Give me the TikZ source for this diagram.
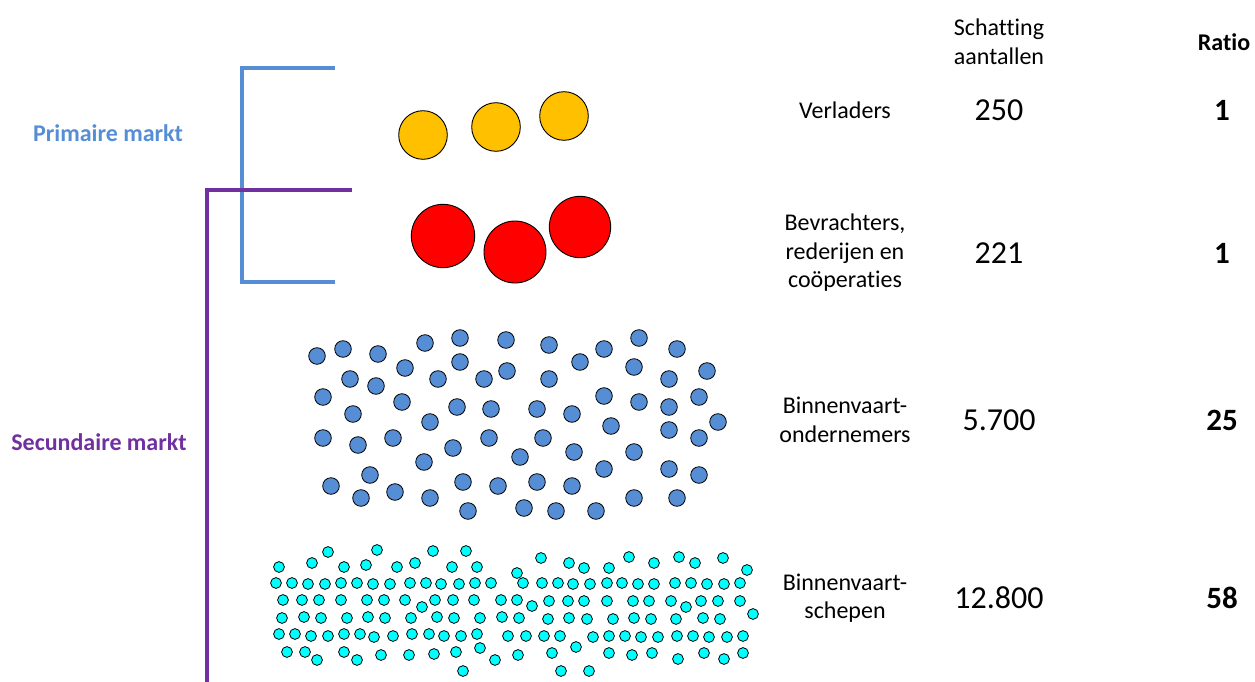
\documentclass[tikz,border=0pt]{standalone}
\usepackage{fontspec}
\setmainfont{Carlito}[RawFeature={-liga;-clig;-calt;-dlig}]
\usepackage{tikz}
\usetikzlibrary{positioning}
\definecolor{primblue}{RGB}{85,142,213}
\definecolor{secpurple}{RGB}{112,48,160}
\definecolor{goldfill}{RGB}{255,192,0}
\definecolor{cyanfill}{RGB}{0,255,255}
\tikzstyle{label} = [align=center, font=\fontsize{24}{28.5}\selectfont]
\tikzstyle{number} = [font=\fontsize{32}{36}\selectfont]
\tikzstyle{ratio} = [font=\fontsize{31}{36}\selectfont\bfseries]
\tikzstyle{market} = [font=\fontsize{24}{28}\selectfont\bfseries]
\tikzstyle{bigdot} = [draw=black, line width=0.9pt]
\tikzstyle{smalldot} = [draw=black, line width=0.8pt, fill=cyanfill]

\begin{document}
\begin{tikzpicture}[x=1pt, y=-1pt, node distance=154pt]
    \useasboundingbox (0,0) rectangle (1255,682);

    % brackets
    \draw [primblue, line width=3.3pt] (335,68) -| (242,282) -- (335,282);
    \draw [secpurple, line width=3.3pt] (352,190) -| (207,682);
    \node (prim) [market, text=primblue] at (108,133) {Primaire markt};
    \node (sec) [market, text=secpurple] at (99,442) {Secundaire markt};

    % column heads
    \node (head) [label] at (999,42) {Schatting\\aantallen};
    \node (headratio) [label, font=\fontsize{24}{28.5}\selectfont\bfseries] at (1224,42) {Ratio};

    % rows
    \node (lab1) [label] at (845,110) {Verladers};
    \node (lab2) [label] at (845,253) {Bevrachters,\\rederijen en\\coöperaties};
    \node (lab3) [label] at (845,420) {Binnenvaart-\\ondernemers};
    \node (lab4) [label] at (845,598) {Binnenvaart-\\schepen};
    \node (cnt1) [number, right of=lab1] {250};
    \node (cnt2) [number, right of=lab2] {221};
    \node (cnt3) [number, right of=lab3] {5.700};
    \node (cnt4) [number, right of=lab4] {12.800};
    \node (rat1) [ratio, right of=cnt1, xshift=69pt] {1};
    \node (rat2) [ratio, right of=cnt2, xshift=69pt] {1};
    \node (rat3) [ratio, right of=cnt3, xshift=69pt] {25};
    \node (rat4) [ratio, right of=cnt4, xshift=69pt] {58};

    % verladers
    \foreach \x/\y in {423/135, 496/127, 564/116}
        \draw [bigdot, fill=goldfill] (\x,\y) circle[radius=24.3pt];
    % bevrachters
    \foreach \x/\y/\r in {443/236/31.7, 515/252/31, 580/227/30.7}
        \draw [bigdot, fill=red] (\x,\y) circle[radius=\r pt];

    % ondernemers
    \foreach \x/\y in {317/356, 343/349, 378/354, 425/343, 460/338, 506/340, 549/345, 604/349,
        639/338, 677/349, 405/368, 460/362, 580/362, 634/367, 707/371, 350/379, 376/386,
        438/379, 484/379, 507/371, 549/379, 669/379, 323/397, 402/402, 604/396, 639/402,
        669/407, 699/397, 353/414, 430/422, 457/407, 491/409, 537/409, 572/414, 611/426,
        718/422, 669/430, 323/438, 358/445, 393/438, 453/448, 489/438, 543/438, 520/457,
        574/452, 634/452, 699/438, 424/462, 604/469, 669/469, 370/475, 699/475, 331/486,
        361/498, 395/492, 430/498, 463/482, 498/486, 537/482, 572/486, 468/511, 524/508,
        556/511, 596/511, 634/498, 677/498}
        \draw [bigdot, line width=0.8pt, fill=primblue] (\x,\y) circle[radius=8.3pt];

    % schepen
    \foreach \x/\y in {328/552, 377/550, 433/551, 466/551, 541/558, 629/557, 679/557, 723/558,
        279/567, 312/563, 344/567, 366/565, 397/567, 415/563, 452/567, 477/567, 517/573,
        569/563, 584/568, 609/568, 654/563, 695/563, 747/570,
        276/583, 292/583, 308/584, 325/584, 341/583, 357/583, 373/584, 390/584, 410/583,
        426/583, 441/584, 459/584, 475/583, 491/583, 523/583, 542/583, 558/583, 573/584,
        590/584, 607/583, 622/583, 638/584, 654/584, 675/583, 691/583, 707/584, 724/584, 740/583,
        283/600, 302/600, 319/600, 341/600, 367/600, 384/600, 405/600, 422/607, 435/600,
        453/600, 474/600, 501/600, 517/600, 532/606, 549/601, 568/601, 584/601, 607/601,
        633/601, 649/601, 671/601, 686/607, 701/601, 718/601, 740/601,
        282/618, 304/617, 321/618, 347/618, 368/617, 385/618, 411/618, 437/617, 454/618,
        480/618, 502/617, 519/618, 548/619, 569/618, 587/619, 613/619, 634/618, 651/619,
        676/619, 703/618, 720/619, 753/614,
        279/634, 295/634, 311/636, 328/636, 344/634, 360/634, 374/637, 393/636, 412/634,
        429/634, 444/636, 461/636, 477/634, 508/636, 526/636, 544/636, 560/636, 593/637,
        609/636, 625/636, 641/637, 658/637, 677/636, 693/636, 709/637, 727/637, 743/636,
        287/652, 305/652, 317/660, 344/652, 357/660, 381/655, 409/655, 434/654, 456/652,
        480/648, 495/660, 518/655, 552/653, 576/647, 609/653, 632/655, 652/653, 678/659,
        704/653, 724/659, 743/653, 463/671, 561/671, 589/671}
        \draw [smalldot] (\x,\y) circle[radius=5.4pt];
\end{tikzpicture}
\end{document}
